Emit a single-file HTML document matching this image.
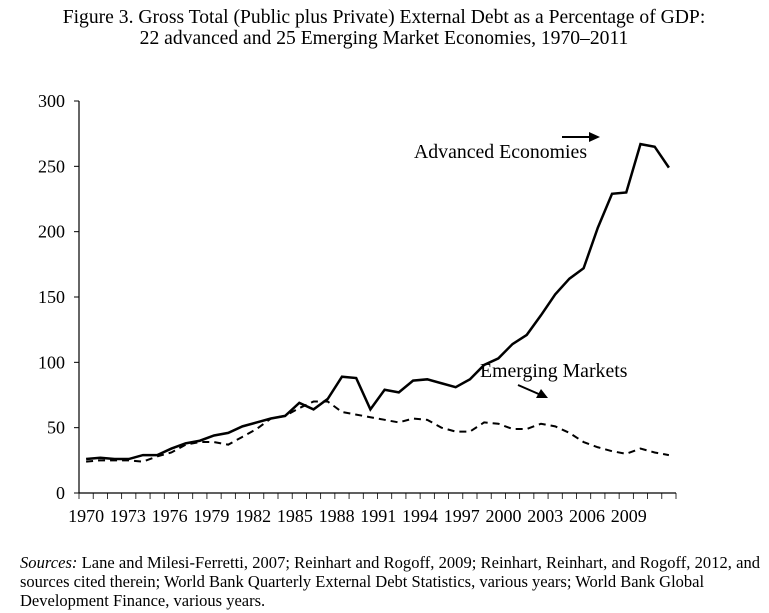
<!DOCTYPE html>
<html><head><meta charset="utf-8"><style>
body{margin:0;background:#fff;width:769px;height:613px;overflow:hidden;font-family:"Liberation Serif",serif;}
</style></head><body>
<svg width="769" height="613" style="position:absolute;left:0;top:0;font-family:'Liberation Serif',serif">
<text x="384" y="23" text-anchor="middle" font-size="19.6">Figure 3. Gross Total (Public plus Private) External Debt as a Percentage of GDP:</text>
<text x="384" y="44" text-anchor="middle" font-size="19.6">22 advanced and 25 Emerging Market Economies, 1970–2011</text>
<g id="axes"></g>
<g id="series"></g>
<text x="414" y="158" font-size="19.8">Advanced Economies</text>
<line x1="562" y1="137" x2="592" y2="137" stroke="#000" stroke-width="2"/>
<polygon points="600,137 589,132 589,142"/>
<text x="480" y="377" font-size="19.8">Emerging Markets</text>
<line x1="518" y1="385" x2="541" y2="395" stroke="#000" stroke-width="2"/>
<polygon points="548,398 536,398 541,389"/>
<text x="20" y="568" font-size="16.5" textLength="740"><tspan font-style="italic">Sources:</tspan> Lane and Milesi-Ferretti, 2007; Reinhart and Rogoff, 2009; Reinhart, Reinhart, and Rogoff, 2012, and</text>
<text x="20" y="587" font-size="16.5">sources cited therein; World Bank Quarterly External Debt Statistics, various years; World Bank Global</text>
<text x="20" y="606" font-size="16.5">Development Finance, various years.</text>
</svg>
<script>
const years=[];for(let y=1970;y<=2011;y++)years.push(y);
const advanced=[26,27,26,26,29,29,34,38,40,44,46,51,54,57,59,69,64,72,89,88,64,79,77,86,87,84,81,87,98,103,114,121,136,152,164,172,203,229,230,267,265,249];
const emerging=[24,25,25,25,24,28,31,37,39,39,37,43,49,57,59,65,70,70,62,60,58,56,54,57,56,50,47,47,54,53,49,49,53,51,46,39,35,32,30,34,31,29];
const yTicks=[0,50,100,150,200,250,300];
const NS="http://www.w3.org/2000/svg";
const x0=79,x1=676,yb=493,yt=101;
const step=(x1-x0)/years.length;
const X=i=>x0+(i+0.5)*step;
const Y=v=>yb-(v/300)*(yb-yt);
function mk(t,a,p){const e=document.createElementNS(NS,t);for(const k in a)e.setAttribute(k,a[k]);p.appendChild(e);return e;}
const ax=document.getElementById('axes');
let l=mk('line',{x1:x0,y1:yt,x2:x0,y2:yb,stroke:'#000','stroke-width':1.2},ax);


l=mk('line',{x1:x0,y1:yb,x2:x1,y2:yb,stroke:'#000','stroke-width':1.2},ax);


yTicks.forEach(v=>{
 const t=mk('line',{x1:x0-5,y1:Y(v),x2:x0,y2:Y(v),stroke:'#000'},ax);
 
 
 const tx=mk('text',{x:65,y:Y(v)+6,'text-anchor':'end','font-size':18},ax);tx.textContent=v;
 
 
});
for(let i=0;i<=years.length;i++){
 const t=mk('line',{x1:x0+i*step,y1:yb,x2:x0+i*step,y2:yb+6,stroke:'#000','stroke-width':0.8},ax);
 
 
}
years.forEach((y,i)=>{if((y-1970)%3===0){
 const tx=mk('text',{x:X(i)-(y-1970)*0.3,y:522,'text-anchor':'middle','font-size':18},ax);tx.textContent=y;
 
 
}});
const sg=document.getElementById('series');
const pe=mk('polyline',{points:emerging.map((v,i)=>X(i)+','+Y(v)).join(' '),fill:'none',stroke:'#000','stroke-width':2,'stroke-dasharray':'7,5'},sg);


const pa=mk('polyline',{points:advanced.map((v,i)=>X(i)+','+Y(v)).join(' '),fill:'none',stroke:'#000','stroke-width':2.5},sg);


</script>
</body></html>
